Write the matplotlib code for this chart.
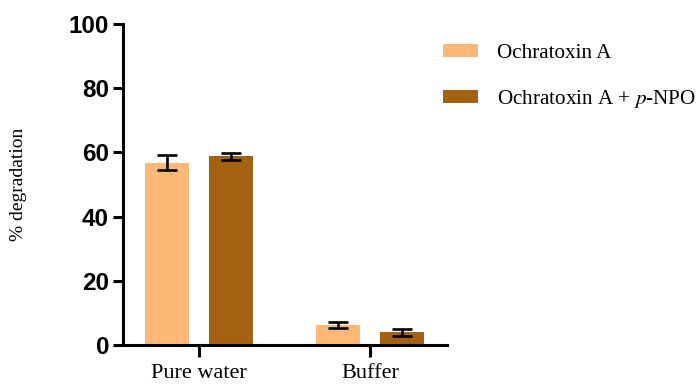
import matplotlib.pyplot as plt
import numpy as np
from matplotlib.patches import Patch

plt.rcParams['mathtext.fontset'] = 'stix'

groups = ['Pure water', 'Buffer']
series = ['Ochratoxin A', 'Ochratoxin A + $\\it{p}$-NPO']
means = [[56.8, 6.2], [58.8, 3.9]]
errors = [[2.3, 0.9], [1.1, 1.0]]
colors = ['#FDB777', '#A2620F']
y_ticks = [0, 20, 40, 60, 80, 100]

fig = plt.figure(figsize=(6.98, 3.85), dpi=100)
ax = fig.add_axes([0.1762, 0.1039, 0.4642, 0.8338])

x = np.arange(len(groups))
width = 0.257
offsets = [-0.187, 0.188]
for i in range(len(series)):
    ax.bar(x + offsets[i], means[i], width, color=colors[i], zorder=2)
    ax.errorbar(x + offsets[i], means[i], yerr=errors[i], fmt='none',
                ecolor='black', elinewidth=1.9, capsize=7.5, capthick=1.9, zorder=3)

ax.set_xlim(-0.444, 1.45)
ax.set_ylim(0, 100)
ax.set_yticks(y_ticks)
ax.set_yticklabels([str(t) for t in y_ticks],
                   fontfamily='Liberation Sans', fontweight='bold', fontsize=17.5)
ax.set_xticks(x)
ax.set_xticklabels(groups, fontfamily='Liberation Serif', fontsize=16)

for side in ['top', 'right']:
    ax.spines[side].set_visible(False)
for side in ['left', 'bottom']:
    ax.spines[side].set_linewidth(2.2)
ax.tick_params(axis='y', length=7, width=2.2, pad=3)
ax.tick_params(axis='x', length=8.5, width=2.2, pad=5)

fig.text(0.027, 0.522, '% degradation', rotation=90, va='center', ha='center',
         fontfamily='Liberation Serif', fontsize=14)

handles = [Patch(facecolor=c, edgecolor='none') for c in colors]
fig.legend(handles, series, loc='upper left', bbox_to_anchor=(0.635, 0.885),
           frameon=False, prop={'family': 'Liberation Serif', 'size': 15.2},
           handlelength=1.65, handleheight=0.58, handletextpad=0.9,
           labelspacing=1.15, borderaxespad=0, borderpad=0)

fig.savefig('out.png', dpi=100)
